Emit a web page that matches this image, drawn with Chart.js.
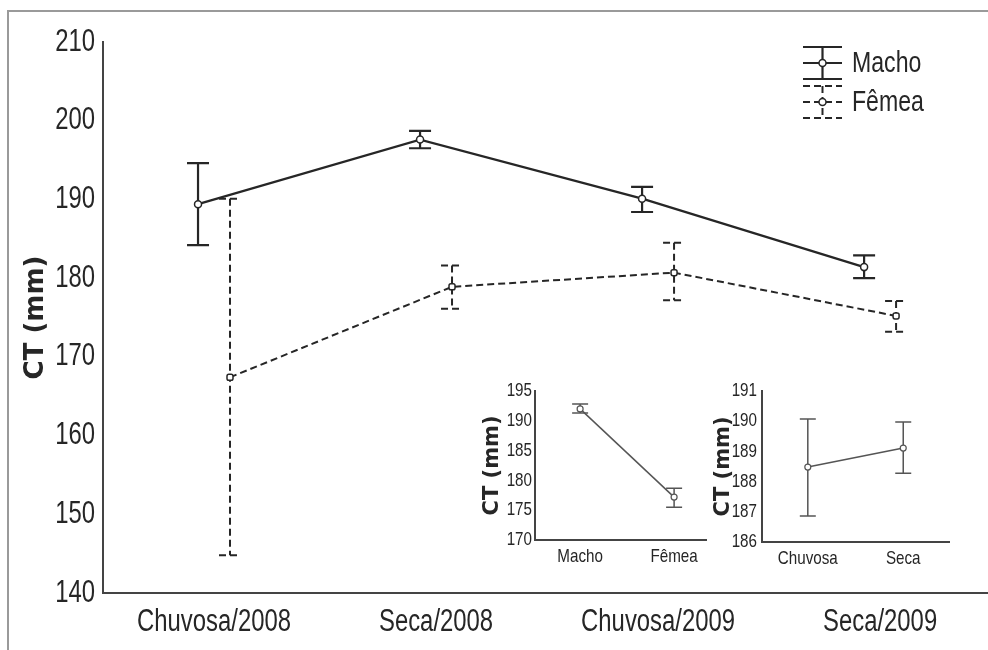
<!DOCTYPE html>
<html>
<head>
<meta charset="utf-8">
<script src="https://cdn.jsdelivr.net/npm/chart.js@4.4.1/dist/chart.umd.min.js"></script>
<style>
  body { margin: 0; background: #fff; }
  #wrap { position: relative; width: 988px; height: 650px; overflow: hidden; background: #fff; }
  #frame { position: absolute; left: 7px; top: 10px; right: -20px; bottom: -20px;
           border-left: 2px solid #9a9a9a; border-top: 2px solid #9a9a9a; }
  canvas { position: absolute; }
  #main { left: 0; top: 0; }
  #insetSex { left: 470px; top: 375px; }
  #insetSeason { left: 700px; top: 375px; }
</style>
</head>
<body>
<div id="wrap">
  <div id="frame"></div>
  <canvas id="main" width="988" height="650"></canvas>
  <canvas id="insetSex" width="237" height="200"></canvas>
  <canvas id="insetSeason" width="250" height="200"></canvas>
</div>
<script>
// main chart: CT by period and sex
const periods = ['Chuvosa/2008', 'Seca/2008', 'Chuvosa/2009', 'Seca/2009']
const machoMean = [189.4, 197.6, 190.1, 181.4]
const machoHi = [194.6, 198.7, 191.6, 182.9]
const machoLo = [184.2, 196.5, 188.4, 180.0]
const femeaMean = [167.4, 178.9, 180.7, 175.2]
const femeaHi = [190.1, 181.6, 184.5, 177.1]
const femeaLo = [144.8, 176.1, 177.2, 173.2]
const mainTicks = [140, 150, 160, 170, 180, 190, 200, 210]

// inset 1: by sex
const sexLabels = ['Macho', 'Fêmea']
const sexMean = [192.0, 177.2]
const sexHi = [192.8, 178.7]
const sexLo = [191.3, 175.5]
const sexTicks = [170, 175, 180, 185, 190, 195]

// inset 2: by season
const seasonLabels = ['Chuvosa', 'Seca']
const seasonMean = [188.48, 189.11]
const seasonHi = [190.07, 189.97]
const seasonLo = [186.86, 188.28]
const seasonTicks = [186, 187, 188, 189, 190, 191]

const dodge = 0.072
const ink = '#262626'
const axisInk = '#444'
const sans = "'Liberation Sans', Arial, sans-serif"
const wide = "'DejaVu Sans', sans-serif"

// the figure uses a condensed face, so labels are squeezed sideways
const narrowText = (ctx, text, x, y, align, squeeze) => {
  ctx.save()
  ctx.translate(x, y)
  ctx.scale(squeeze, 1)
  ctx.textAlign = align
  ctx.fillText(text, 0, 0)
  ctx.restore()
}

const errorBars = {
  id: 'errorBars',
  beforeDatasetsDraw(chart, args, opts) {
    const { ctx, scales: { x, y } } = chart
    chart.data.datasets.forEach((ds) => {
      if (!ds.errHi) return
      ctx.save()
      ctx.strokeStyle = ds.borderColor
      ctx.lineWidth = ds.borderWidth
      ctx.setLineDash(ds.borderDash || [])
      ds.data.forEach((p, i) => {
        const px = x.getPixelForValue(p.x)
        const top = y.getPixelForValue(ds.errHi[i])
        const bot = y.getPixelForValue(ds.errLo[i])
        const w = opts.cap
        ctx.beginPath()
        ctx.moveTo(px, top); ctx.lineTo(px, bot)
        ctx.moveTo(px - w, top); ctx.lineTo(px + w, top)
        ctx.moveTo(px - w, bot); ctx.lineTo(px + w, bot)
        ctx.stroke()
      })
      ctx.restore()
    })
  }
}

const axisLabels = {
  id: 'axisLabels',
  afterDraw(chart, args, opts) {
    const { ctx, scales: { x, y } } = chart
    ctx.save()
    ctx.fillStyle = ink
    ctx.font = opts.size + 'px ' + sans
    ctx.textBaseline = 'middle'
    opts.cats.forEach((c, i) => {
      narrowText(ctx, c, x.getPixelForValue(i), x.top + opts.xGap, 'center', opts.squeeze)
    })
    opts.values.forEach((v) => {
      narrowText(ctx, String(v), y.right - opts.yGap, y.getPixelForValue(v), 'right', opts.squeeze)
    })
    ctx.restore()
  }
}

const legendBox = {
  id: 'legendBox',
  afterDraw(chart, args, opts) {
    const ctx = chart.ctx
    chart.data.datasets.forEach((ds, i) => {
      const cy = opts.y + i * opts.rowGap
      const x0 = opts.x
      const x1 = opts.x + opts.symbolWidth
      const cx = (x0 + x1) / 2
      const h = opts.capGap
      ctx.save()
      ctx.strokeStyle = ds.borderColor
      ctx.lineWidth = ds.borderWidth
      ctx.setLineDash(ds.borderDash || [])
      ctx.beginPath()
      ;[-h, 0, h].forEach(dy => { ctx.moveTo(x0, cy + dy); ctx.lineTo(x1, cy + dy) })
      ctx.moveTo(cx, cy - h); ctx.lineTo(cx, cy + h)
      ctx.stroke()
      ctx.setLineDash([])
      ctx.lineWidth = 1.5
      ctx.beginPath()
      ctx.arc(cx, cy, 3.5, 0, Math.PI * 2)
      ctx.fillStyle = '#fff'
      ctx.fill()
      ctx.stroke()
      ctx.fillStyle = ink
      ctx.font = '30px ' + sans
      ctx.textBaseline = 'middle'
      narrowText(ctx, ds.label, x1 + 10, cy + 1, 'left', 0.77)
      ctx.restore()
    })
  }
}

const toPoints = (vals, shift) => vals.map((v, i) => ({ x: i + shift, y: v }))

const catAxis = (labels, min, max, height) => ({
  type: 'linear',
  min: min,
  max: max,
  afterBuildTicks: (scale) => { scale.ticks = labels.map((l, i) => ({ value: i })) },
  afterFit: (scale) => { scale.height = height },
  ticks: { display: false },
  grid: { display: false, drawTicks: false },
  border: { display: true, color: axisInk, width: 2 }
})

const valAxis = (ticks, width, titleSize, titlePad) => ({
  min: ticks[0],
  max: ticks[ticks.length - 1],
  afterBuildTicks: (scale) => { scale.ticks = ticks.map(v => ({ value: v })) },
  afterFit: (scale) => { scale.width = width },
  ticks: { display: false },
  grid: { display: false, drawTicks: false },
  border: { display: true, color: axisInk, width: 2 },
  title: {
    display: true,
    text: 'CT (mm)',
    color: ink,
    padding: { top: titlePad, bottom: 0 },
    font: { family: wide, size: titleSize, weight: 'bold' }
  }
})

new Chart(document.getElementById('main'), {
  type: 'line',
  data: {
    datasets: [
      {
        label: 'Macho',
        data: toPoints(machoMean, -dodge),
        errHi: machoHi,
        errLo: machoLo,
        borderColor: ink,
        borderWidth: 2.2,
        pointStyle: 'circle',
        pointRadius: 3.5,
        pointBorderWidth: 1.5,
        pointBackgroundColor: '#fff'
      },
      {
        label: 'Fêmea',
        data: toPoints(femeaMean, dodge),
        errHi: femeaHi,
        errLo: femeaLo,
        borderColor: ink,
        borderWidth: 2,
        borderDash: [7, 4],
        pointStyle: 'rectRounded',
        pointRadius: 3.5,
        pointBorderWidth: 1.5,
        pointBackgroundColor: '#fff'
      }
    ]
  },
  options: {
    responsive: false,
    animation: false,
    devicePixelRatio: 1,
    layout: { autoPadding: false, padding: { top: 42, left: 0, right: 0, bottom: 0 } },
    plugins: {
      legend: { display: false },
      tooltip: { enabled: false },
      errorBars: { cap: 11 },
      axisLabels: { cats: periods, values: mainTicks, size: 31, squeeze: 0.77, xGap: 29, yGap: 8 },
      legendBox: { x: 803, y: 63, rowGap: 39, symbolWidth: 39, capGap: 16 }
    },
    scales: {
      x: catAxis(periods, -0.5, 3.486, 57),
      y: valAxis(mainTicks, 103, 26, 21)
    }
  },
  plugins: [errorBars, axisLabels, legendBox]
})

const insetConfig = (labels, mean, hi, lo, ticks, xmin, xmax, yWidth, xHeight, yGap, titlePad) => ({
  type: 'line',
  data: {
    datasets: [{
      label: 'CT',
      data: toPoints(mean, 0),
      errHi: hi,
      errLo: lo,
      borderColor: '#555',
      borderWidth: 1.5,
      pointStyle: 'circle',
      pointRadius: 3,
      pointBorderWidth: 1.2,
      pointBackgroundColor: '#fff'
    }]
  },
  options: {
    responsive: false,
    animation: false,
    devicePixelRatio: 1,
    layout: { autoPadding: false, padding: { top: 16, left: 0, right: 0, bottom: 0 } },
    plugins: {
      legend: { display: false },
      tooltip: { enabled: false },
      errorBars: { cap: 8 },
      axisLabels: { cats: labels, values: ticks, size: 19, squeeze: 0.8, xGap: 17, yGap: yGap }
    },
    scales: {
      x: catAxis(labels, xmin, xmax, xHeight),
      y: valAxis(ticks, yWidth, 21, titlePad)
    }
  },
  plugins: [errorBars, axisLabels]
})

new Chart(document.getElementById('insetSex'),
  insetConfig(sexLabels, sexMean, sexHi, sexLo, sexTicks, -0.48, 1.35, 65, 35, 3, 10))
new Chart(document.getElementById('insetSeason'),
  insetConfig(seasonLabels, seasonMean, seasonHi, seasonLo, seasonTicks, -0.48, 1.49, 62, 33, 5, 11))
</script>
</body>
</html>
